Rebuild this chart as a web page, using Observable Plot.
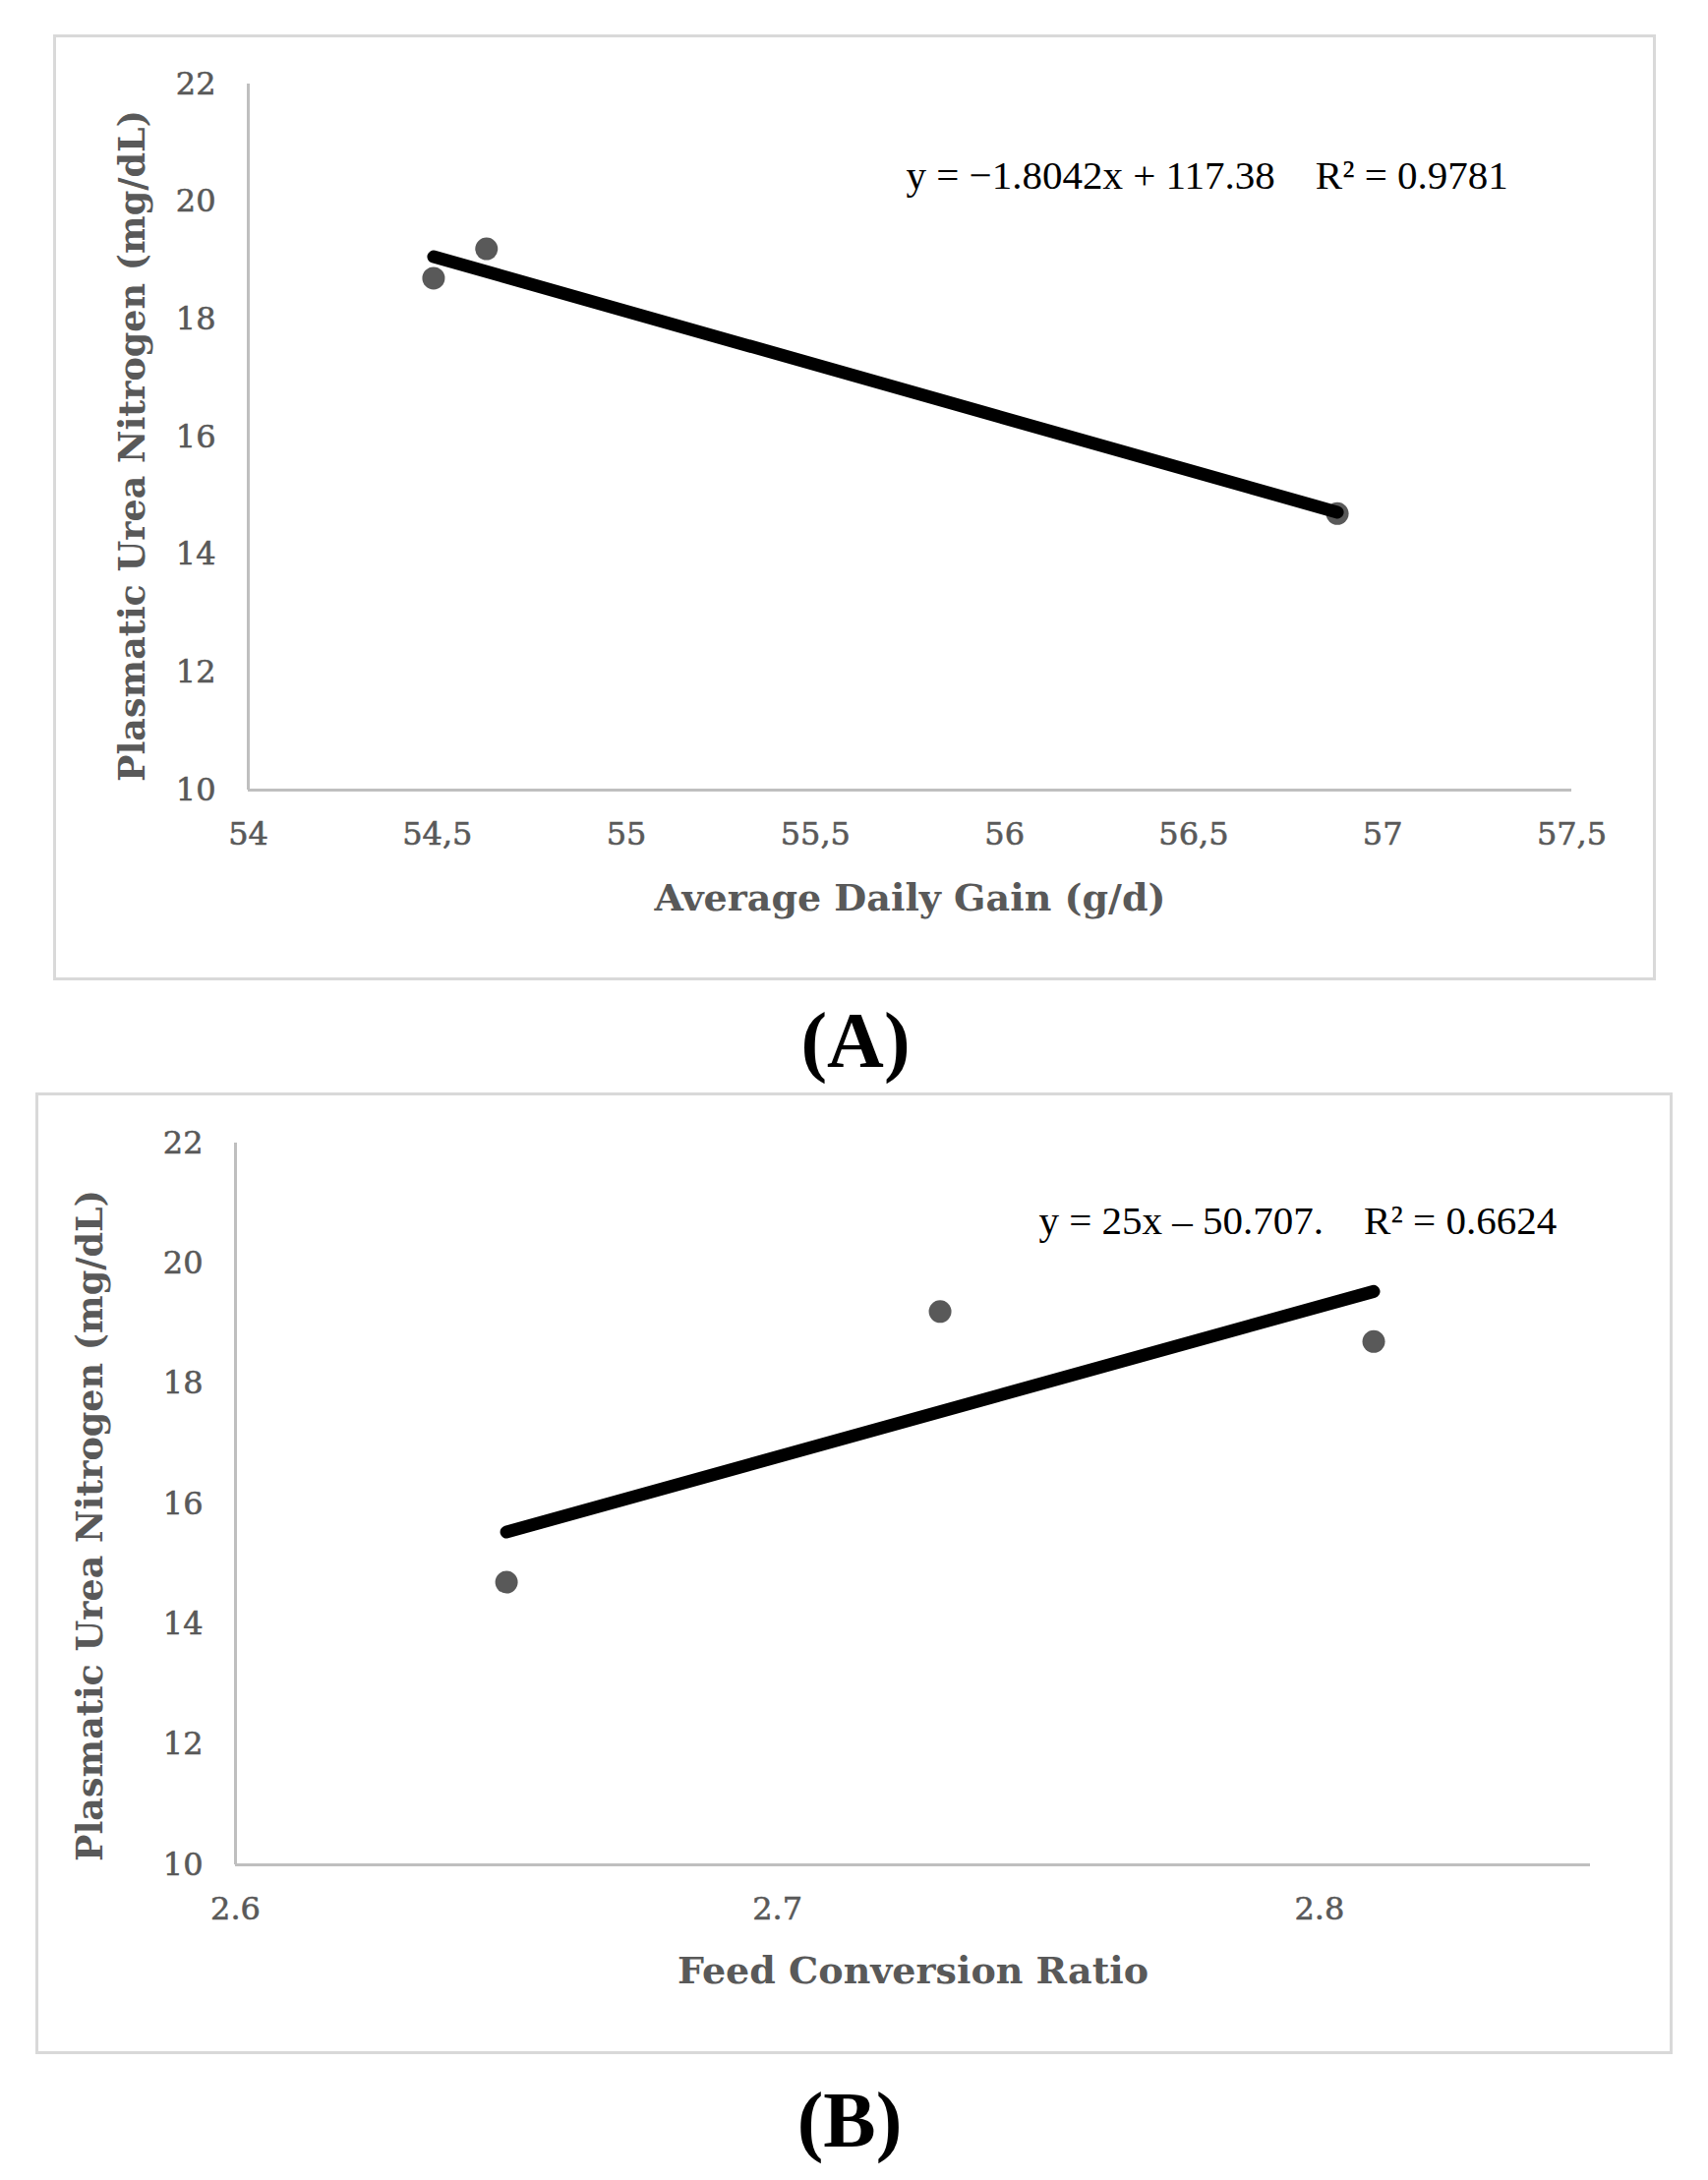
<!DOCTYPE html>
<html><head><meta charset="utf-8">
<script src="https://cdn.jsdelivr.net/npm/d3@7"></script>
<script src="https://cdn.jsdelivr.net/npm/@observablehq/plot@0.6"></script>
<style>
body{margin:0;background:#fff;}
#page{position:relative;width:1737px;height:2217px;background:#fff;overflow:hidden;}
.box{position:absolute;border:3px solid #d9d9d9;box-sizing:border-box;}
.panel{position:absolute;}
.panel g[aria-label$="tick label"] text{stroke:#595959;stroke-width:0.6px;}
.cap{position:absolute;font-family:"Liberation Serif",serif;font-weight:bold;font-size:80px;color:#000;transform:translate(-50%,-50%);white-space:nowrap;line-height:1;}
</style></head><body><div id="page"></div>
<script>
// ---- data ----
const punValues = [18.7, 19.2, 14.7];          // Plasmatic Urea Nitrogen (mg/dL)
const adgValues = [54.49, 54.63, 56.88];       // Average Daily Gain (g/d)
const fcrValues = [2.81, 2.73, 2.65];          // Feed Conversion Ratio
const punTicks = [10, 12, 14, 16, 18, 20, 22];
const adgTicks = [54, 54.5, 55, 55.5, 56, 56.5, 57, 57.5];
const fcrTicks = [2.6, 2.7, 2.8];
const yTitle = "Plasmatic Urea Nitrogen (mg/dL)";
const adgTitle = "Average Daily Gain (g/d)";
const fcrTitle = "Feed Conversion Ratio";
const eqA = "y = −1.8042x + 117.38\u00a0\u00a0\u00a0\u00a0R² = 0.9781";
const eqB = "y = 25x – 50.707.\u00a0\u00a0\u00a0\u00a0R² = 0.6624";
const captions = ["(A)", "(B)"];

const page = document.getElementById("page");

function panel(cfg) {
  const data = cfg.xs.map((x, i) => ({x, y: punValues[i]}));
  const box = document.createElement("div");
  box.className = "box";
  Object.assign(box.style, {left: cfg.left + "px", top: cfg.top + "px", width: cfg.W + "px", height: cfg.H + "px"});
  page.appendChild(box);

  const chart = Plot.plot({
    width: cfg.W, height: cfg.H,
    marginLeft: cfg.mL, marginRight: cfg.mR, marginTop: cfg.mT, marginBottom: cfg.mB,
    style: {background: "transparent", overflow: "visible", fontFamily: "'DejaVu Serif', serif", fontSize: "32px", color: "#595959"},
    x: {domain: cfg.xDomain, ticks: cfg.xTicks, tickFormat: cfg.xFmt, tickSize: 0, tickPadding: 33, label: null},
    y: {domain: [10, 22], ticks: punTicks, tickSize: 0, tickPadding: 33, label: null},
    marks: [
      Plot.ruleX([cfg.xDomain[0]], {stroke: "#bfbfbf", strokeWidth: 3}),
      Plot.ruleY([10], {stroke: "#bfbfbf", strokeWidth: 3}),
      Plot.dot(data, {x: "x", y: "y", r: 11.5, fill: "#595959"}),
      Plot.linearRegressionY(data, {x: "x", y: "y", stroke: "#000", strokeWidth: 13, ci: 0, strokeLinecap: "round"}),
      Plot.text([cfg.eq], {frameAnchor: "top-left", textAnchor: "start", lineAnchor: "middle", dx: cfg.eqDx, dy: cfg.eqDy, fontSize: 41, fontFamily: "'Liberation Serif', serif", fill: "#000"}),
      Plot.text([cfg.xTitle], {frameAnchor: "bottom", textAnchor: "middle", lineAnchor: "middle", dy: cfg.xtDy, fontSize: 38, fontWeight: "bold", fill: "#595959"}),
      Plot.text([yTitle], {frameAnchor: "left", rotate: -90, textAnchor: "middle", lineAnchor: "middle", dx: cfg.ytDx, dy: cfg.ytDy, fontSize: 36.5, fontWeight: "bold", fill: "#595959"})
    ]
  });
  chart.classList.add("panel");
  chart.style.left = cfg.left + "px";
  chart.style.top = cfg.top + "px";
  page.appendChild(chart);

  const cap = document.createElement("div");
  cap.className = "cap";
  cap.textContent = cfg.caption;
  cap.style.left = cfg.capX + "px";
  cap.style.top = cfg.capY + "px";
  page.appendChild(cap);
}

panel({
  xs: adgValues, xDomain: [54, 57.5], xTicks: adgTicks, xFmt: d => String(d).replace(".", ","),
  xTitle: adgTitle, eq: eqA, caption: captions[0],
  left: 54, top: 35, W: 1630, H: 962, mL: 198, mR: 86, mT: 50, mB: 194,
  eqDx: 669, eqDy: 93, xtDy: 110, ytDx: -117, ytDy: 9, capX: 870, capY: 1058
});
panel({
  xs: fcrValues, xDomain: [2.6, 2.85], xTicks: fcrTicks, xFmt: d => d.toFixed(1),
  xTitle: fcrTitle, eq: eqB, caption: captions[1],
  left: 36, top: 1111, W: 1665, H: 978, mL: 203, mR: 84, mT: 51, mB: 193,
  eqDx: 817, eqDy: 79, xtDy: 108, ytDx: -147, ytDy: 22, capX: 864, capY: 2156
});
</script></body></html>
